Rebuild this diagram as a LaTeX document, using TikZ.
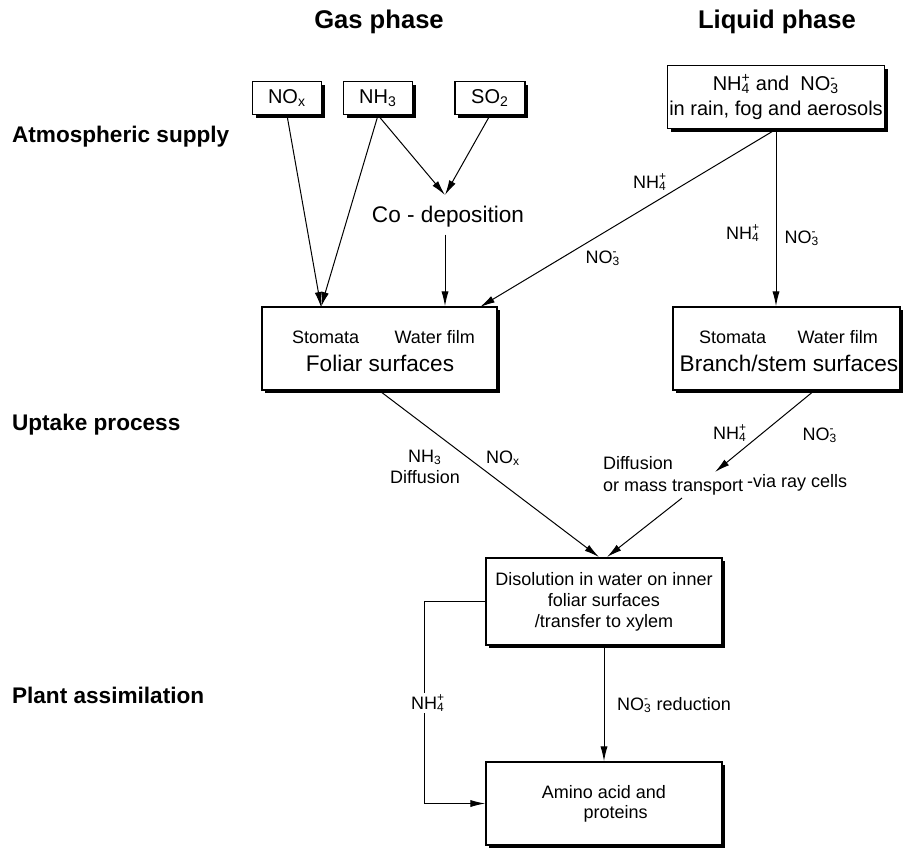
\documentclass[tikz,border=0pt]{standalone}
\usepackage{fontspec}
\setmainfont{Liberation Sans}
\usetikzlibrary{arrows.meta,shadows}
\newcommand{\ion}[2]{\makebox[0pt][l]{\textsuperscript{#2}}\textsubscript{#1}}

\begin{document}
\begin{tikzpicture}[x=0.5pt,y=-0.5pt,
    box/.style={draw, fill=white, line width=0.75pt, inner sep=0pt, align=center,
      drop shadow={shadow xshift=1.5pt, shadow yshift=-1.5pt, opacity=1, fill=black}},
    flow/.style={-{Latex[length=7.5pt,width=3.6pt]}, line width=0.5pt},
    heading/.style={font=\fontsize{12.8}{15}\selectfont\bfseries},
    stage/.style={anchor=west, font=\fontsize{11.3}{13}\selectfont\bfseries},
    big/.style={font=\fontsize{11.3}{13}\selectfont},
    small/.style={font=\fontsize{9}{10.5}\selectfont},
    mid/.style={font=\fontsize{10}{12.5}\selectfont}]
   \useasboundingbox (0,0) rectangle (905,848);

   % headings and stages
   \node[heading] (gas) at (379,22) {Gas phase};
   \node[heading] (liq) at (777,22) {Liquid phase};
   \node[stage] (atmo) at (5,137) {Atmospheric supply};
   \node[stage] (upt) at (5,425) {Uptake process};
   \node[stage] (assim) at (5,695) {Plant assimilation};

   % sources
   \node[box, mid, minimum width=34.5pt, minimum height=16.5pt] (nox) at (287,98) {NO\textsubscript{x}};
   \node[box, mid, minimum width=34.5pt, minimum height=16.5pt] (nh3) at (378,98) {NH\textsubscript{3}};
   \node[box, mid, minimum width=35pt, minimum height=16.5pt] (so2) at (490,98) {SO\textsubscript{2}};
   \node[box, mid, minimum width=108.5pt, minimum height=31.5pt] (rain) at (776,97)
      {NH\ion{4}{+} and\ \ NO\ion{3}{-}\\in rain, fog and aerosols};
   \node[big] (codep) at (448,217) {Co - deposition};

   % surfaces
   \node[box, minimum width=117.5pt, minimum height=41.5pt] (foliar) at (379.5,348.5) {};
   \node[small, anchor=west] (fstom) at (285,337) {Stomata};
   \node[small, anchor=east] (fwat) at (482,337) {Water film};
   \node[big] (fsurf) at (380,363) {Foliar surfaces};
   \node[box, minimum width=113.5pt, minimum height=41.5pt] (branch) at (786.5,348.5) {};
   \node[small, anchor=west] (bstom) at (692,337) {Stomata};
   \node[small, anchor=east] (bwat) at (885,337) {Water film};
   \node[big] (bsurf) at (789,363) {Branch/stem surfaces};

   % plant
   \node[box, small, minimum width=118pt, minimum height=43.5pt] (disol) at (604,601.5)
      {Disolution in water on inner\\foliar surfaces\\/transfer to xylem};
   \node[box, small, minimum width=118pt, minimum height=41.5pt, font=\fontsize{9}{10}\selectfont] (amino) at (604,803.5)
      {Amino acid and\\\hspace*{1.3em}proteins};

   \coordinate (cd) at (445,195);
   \coordinate (fol-gas) at (321,307);
   \coordinate (fol-liq) at (480,307);
   \coordinate (br-out) at (815,390);
   \coordinate (via-end) at (715,472);
   \coordinate (via-start) at (682,498);
   \coordinate (dis-gas) at (599,557);
   \coordinate (dis-liq) at (607,557);

   \draw[flow] (nox.south) -- (fol-gas);
   \draw[flow] (nh3.south) -- (fol-gas);
   \draw[flow] (nh3.south) -- (cd);
   \draw[flow] (so2.south) -- (cd);
   \draw[flow] (cd |- codep.south) -- (cd |- foliar.north);
   \draw[flow] (rain.south) -- (fol-liq);
   \draw[flow] (rain.south) -- (rain.south |- branch.north);
   \draw[flow] (foliar.south) -- (dis-gas);
   \draw[flow] (br-out) -- (via-end);
   \draw[flow] (via-start) -- (dis-liq);
   \draw[flow] (disol.south) -- (amino.north);
   \draw[flow] (disol.west) -- ++(-61,0) |- (amino.west);

   % labels
   \node[small] (l1) at (650,182) {NH\ion{4}{+}};
   \node[small] (l2) at (603,258) {NO\ion{3}{-}};
   \node[small] (l3) at (743,233) {NH\ion{4}{+}};
   \node[small] (l4) at (802,238) {NO\ion{3}{-}};
   \node[small, align=center] (l5) at (425,467) {NH\textsubscript{3}\\Diffusion};
   \node[small] (l6) at (503,458) {NO\textsubscript{x}};
   \node[small] (l7) at (730,433) {NH\ion{4}{+}};
   \node[small] (l8) at (820,435) {NO\ion{3}{-}};
   \node[small, align=left, anchor=west, font=\fontsize{9}{11}\selectfont] (diff) at (596,476) {Diffusion\\or mass transport};
   \node[small, anchor=west] (ray) at (740,483) {-via ray cells};
   \node[small, fill=white, inner sep=1pt] (l9) at (428,703) {NH\ion{4}{+}};
   \node[small, anchor=west] (red) at (610,705) {NO\ion{3}{-} reduction};
 \end{tikzpicture}
\end{document}
